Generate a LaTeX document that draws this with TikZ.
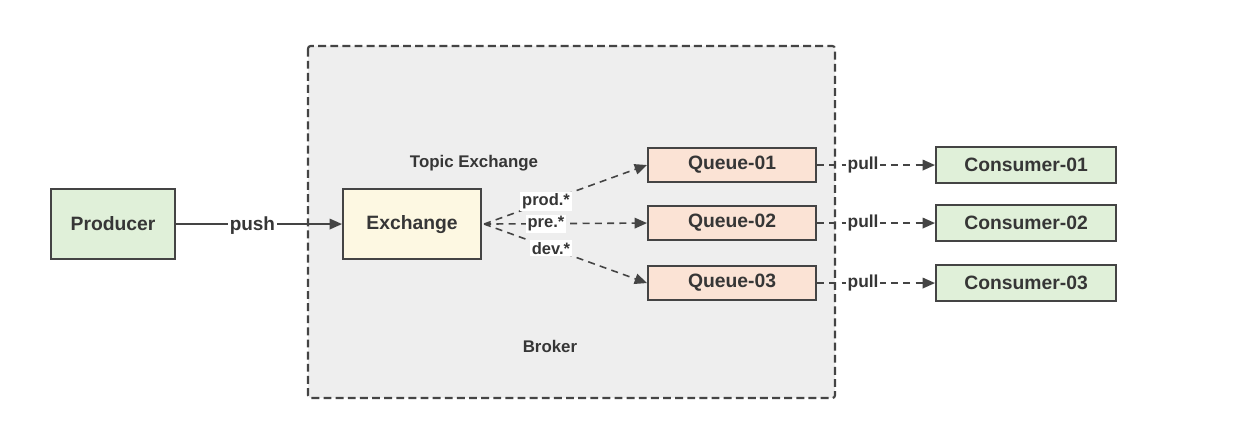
\documentclass[tikz,border=0pt]{standalone}
\usepackage{fontspec}
\setmainfont{Liberation Sans}
\usetikzlibrary{arrows.meta}
\definecolor{ink}{HTML}{363636}
\definecolor{edge}{HTML}{444444}
\definecolor{brokerbg}{HTML}{EEEEEE}
\definecolor{greenfill}{HTML}{E0F0D9}
\definecolor{yellowfill}{HTML}{FDF8E2}
\definecolor{peachfill}{HTML}{FBE3D5}
\tikzset{
  box/.style={draw=edge, line width=1.2pt, text=ink, font=\bfseries\fontsize{11}{13}\selectfont,
    inner sep=0pt, anchor=north west},
  lbl/.style={text=ink, font=\bfseries\fontsize{9.4}{11}\selectfont, inner sep=1pt},
  tip/.style={-{Triangle[length=7pt,width=6pt]}},
  link/.style={draw=edge, line width=0.9pt, tip},
  dlink/.style={link, dash pattern=on 4pt off 3pt},
}
\begin{document}
\begin{tikzpicture}[x=0.02cm, y=-0.02cm]
\useasboundingbox (0,0) rectangle (1247,421);
\fill[white] (0,0) rectangle (1247,421);

% broker area
\draw[draw=edge, fill=brokerbg, line width=1.2pt, dash pattern=on 4.5pt off 2.4pt, rounded corners=1.5pt]
  (308,46) rectangle (835,398);
\node[lbl, font=\bfseries\fontsize{9.6}{11}\selectfont] (topic) at (474,163) {Topic Exchange};
\node[lbl, font=\bfseries\fontsize{9.6}{11}\selectfont] (broker) at (550,346) {Broker};

% nodes
\node[box, fill=greenfill, minimum width=124*0.02cm, minimum height=70*0.02cm] (producer) at (50,188) {Producer};
\node[box, fill=yellowfill, minimum width=138*0.02cm, minimum height=70*0.02cm] (exchange) at (342,188) {Exchange};

\node[box, fill=peachfill, minimum width=168*0.02cm, minimum height=34*0.02cm] (q1) at (647,147) {Queue-01};
\node[box, fill=peachfill, minimum width=168*0.02cm, minimum height=34*0.02cm] (q2) at (647,205) {Queue-02};
\node[box, fill=peachfill, minimum width=168*0.02cm, minimum height=34*0.02cm] (q3) at (647,265) {Queue-03};

\node[box, fill=greenfill, minimum width=180*0.02cm, minimum height=36*0.02cm] (c1) at (935,146) {Consumer-01};
\node[box, fill=greenfill, minimum width=180*0.02cm, minimum height=36*0.02cm] (c2) at (935,204) {Consumer-02};
\node[box, fill=greenfill, minimum width=180*0.02cm, minimum height=36*0.02cm] (c3) at (935,264) {Consumer-03};

% connectors
\draw[link] (producer.east) -- node[pos=0.46, yshift=-2*0.02cm, lbl, fill=white, font=\bfseries\fontsize{10.8}{12}\selectfont] {push} (exchange.west);

\coordinate (xout) at ([xshift=2*0.02cm]exchange.east);
\draw[dlink] (xout) -- node[pos=0.38, lbl, fill=white] {prod.*} (q1.west);
\draw[dlink] (xout) -- node[pos=0.38, lbl, fill=white] {pre.*} (q2.west);
\draw[dlink] (xout) -- node[pos=0.41, lbl, fill=white] {dev.*} (q3.west);

\draw[dlink] (q1.east) -- node[pos=0.39, lbl, fill=white, font=\bfseries\fontsize{9.9}{11}\selectfont] {pull} (c1.west);
\draw[dlink] (q2.east) -- node[pos=0.39, lbl, fill=white, font=\bfseries\fontsize{9.9}{11}\selectfont] {pull} (c2.west);
\draw[dlink] (q3.east) -- node[pos=0.39, lbl, fill=white, font=\bfseries\fontsize{9.9}{11}\selectfont] {pull} (c3.west);
\end{tikzpicture}
\end{document}
